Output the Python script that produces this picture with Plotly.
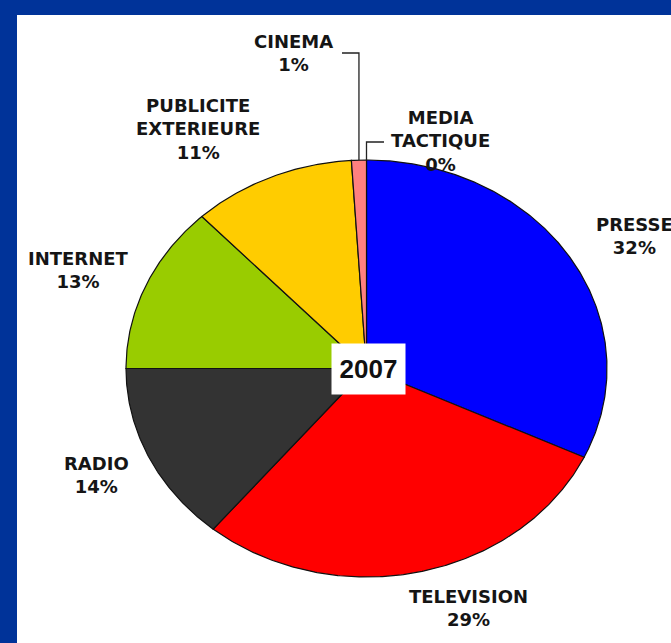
import numpy as np
import plotly.graph_objects as go

# Media spend shares, 2007 (clockwise from 12 o'clock)
categories = ["PRESSE", "TELEVISION", "RADIO", "INTERNET",
              "PUBLICITE<br>EXTERIEURE", "CINEMA", "MEDIA<br>TACTIQUE"]
shares = [32, 29, 14, 13, 11, 1, 0]
colors = ["#0000ff", "#ff0000", "#333333", "#99cc00", "#ffcc00", "#ff8080", "#cccccc"]
year_label = "2007"

W, H = 671, 643
BORDER_L, BORDER_T = 17, 15
# pie geometry in pixels (elliptical pie)
CX, CY, RX, RY = 366.5, 368.5, 240.5, 208.5


def dx(px):
    return (px - CX) / RX


def dy(py):
    return (CY - py) / RY


fig = go.Figure()

total = float(sum(shares))
start = 0.0
mid_angles = []
for name, val, col in zip(categories, shares, colors):
    frac = val / total
    t0, t1 = start * 2 * np.pi, (start + frac) * 2 * np.pi
    mid_angles.append((t0 + t1) / 2)
    start += frac
    if val <= 0:
        continue
    n = max(4, int(720 * frac))
    t = np.linspace(t0, t1, n)
    xs = np.concatenate([[0], np.sin(t), [0]])
    ys = np.concatenate([[0], np.cos(t), [0]])
    fig.add_trace(go.Scatter(
        x=xs, y=ys, mode="lines", fill="toself", fillcolor=col,
        line=dict(color="#111111", width=1.2), hoverinfo="skip",
        showlegend=False, name=name.replace("<br>", " ")))

LABEL_FONT = dict(family="DejaVu Sans", size=18, color="#151515")

# label block centres, in pixels
label_pos = {
    "PRESSE": (634, 236),
    "TELEVISION": (468, 608),
    "RADIO": (96, 475),
    "INTERNET": (78, 270),
    "PUBLICITE<br>EXTERIEURE": (198, 129),
    "CINEMA": (293, 53),
    "MEDIA<br>TACTIQUE": (440, 141),
}

for name, val in zip(categories, shares):
    px, py = label_pos[name]
    fig.add_annotation(
        x=dx(px), y=dy(py), xref="x", yref="y",
        text=f"<b>{name}<br>{val}%</b>", showarrow=False,
        font=LABEL_FONT, align="center", xanchor="center", yanchor="middle")

# leader lines for the two thin slices at the top
i_cin = categories.index("CINEMA")
i_med = categories.index("MEDIA<br>TACTIQUE")
for idx, label_end_px, elbow_y in [(i_cin, (342, 53), 53), (i_med, (384, 142), 142)]:
    a = mid_angles[idx]
    ex, ey = np.sin(a), np.cos(a)
    xs = [dx(label_end_px[0]), ex, ex]
    ys = [dy(elbow_y), dy(elbow_y), ey]
    fig.add_trace(go.Scatter(
        x=xs, y=ys, mode="lines", line=dict(color="#222222", width=1.3),
        hoverinfo="skip", showlegend=False))

# year box in the centre
fig.add_annotation(
    x=dx(368.5), y=dy(369), xref="x", yref="y", text=f"<b>{year_label}</b>",
    showarrow=False, bgcolor="white", width=73, height=50, borderpad=0,
    font=dict(family="Liberation Sans", size=26, color="#111111"),
    xanchor="center", yanchor="middle")

x_dom = [BORDER_L / W, 1]
y_dom = [0, (H - BORDER_T) / H]

fig.update_layout(
    width=W, height=H, margin=dict(l=0, r=0, t=0, b=0),
    paper_bgcolor="#003399", plot_bgcolor="white",
    xaxis=dict(domain=x_dom, range=[dx(BORDER_L), dx(W)], visible=False,
               fixedrange=True),
    yaxis=dict(domain=y_dom, range=[dy(H), dy(BORDER_T)], visible=False,
               fixedrange=True),
    shapes=[dict(type="rect", xref="paper", yref="paper",
                 x0=x_dom[0], x1=1, y0=0, y1=y_dom[1],
                 fillcolor="white", line=dict(width=0), layer="below")],
)

fig.write_html("out.html", config={"displayModeBar": False})
